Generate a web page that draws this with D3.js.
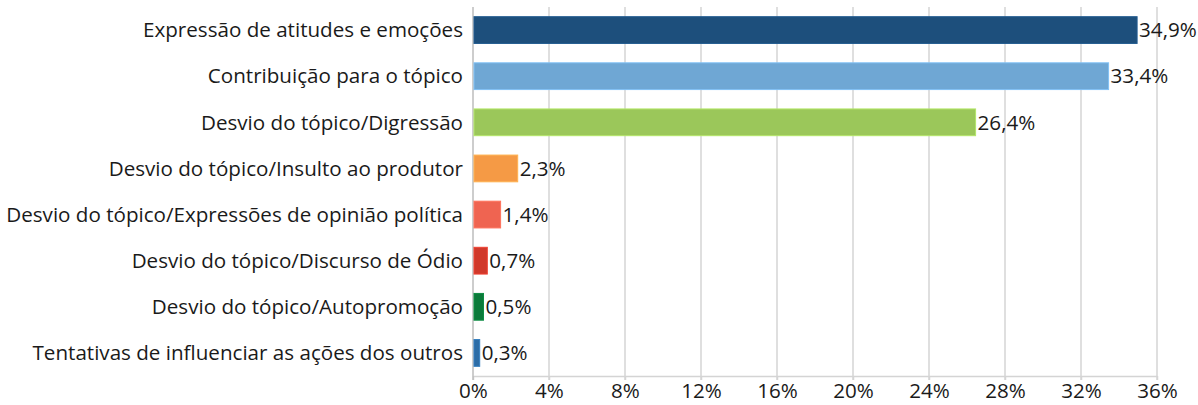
<!DOCTYPE html>
<html>
<head>
<meta charset="utf-8">
<style>
body { margin: 0; background: #fff; }
text { font-family: "Open Sans", sans-serif; fill: #1a1a1a; }
</style>
</head>
<body>
<div id="container"></div>
<script src="https://d3js.org/d3.v7.min.js"></script>
<script>
const categories = [
    "Expressão de atitudes e emoções",
    "Contribuição para o tópico",
    "Desvio do tópico/Digressão",
    "Desvio do tópico/Insulto ao produtor",
    "Desvio do tópico/Expressões de opinião política",
    "Desvio do tópico/Discurso de Ódio",
    "Desvio do tópico/Autopromoção",
    "Tentativas de influenciar as ações dos outros"
];
const values = [34.9, 33.4, 26.4, 2.3, 1.4, 0.7, 0.5, 0.3];
const colors = ["#1d4f7c", "#6fa7d4", "#9bc75a", "#f59a45", "#ef6451", "#d0392b", "#0b7a3a", "#2c6ca6"];
const ticks = [0, 4, 8, 12, 16, 20, 24, 28, 32, 36];

const width = 1198;
const height = 405;
const marginTop = 7;
const marginRight = 41;
const marginBottom = 29;
const marginLeft = 473;
const fontSize = 20.6;

const x = d3.scaleLinear()
    .domain([0, 36])
    .range([marginLeft, width - marginRight]);

const y = d3.scaleBand()
    .domain(categories)
    .range([marginTop, height - marginBottom])
    .paddingInner(0.42)
    .paddingOuter(0.21);

const svg = d3.create("svg")
    .attr("width", width)
    .attr("height", height);

// gridlines
svg.append("g")
    .selectAll("line")
    .data(ticks.slice(1))
    .join("line")
    .attr("x1", d => x(d))
    .attr("x2", d => x(d))
    .attr("y1", marginTop)
    .attr("y2", height - marginBottom + 4)
    .attr("stroke", "#d4d4d4")
    .attr("stroke-width", 1.5);

// bottom axis
const xAxis = svg.append("g")
    .attr("transform", `translate(0,${height - marginBottom})`)
    .call(d3.axisBottom(x).tickValues(ticks).tickFormat(d => d + "%").tickSize(4).tickSizeOuter(0));
xAxis.select(".domain").attr("stroke", "#d4d4d4").attr("stroke-width", 1.5);
xAxis.selectAll(".tick line").attr("stroke", "#d4d4d4").attr("stroke-width", 1.5);
xAxis.selectAll(".tick text")
    .attr("font-size", fontSize)
    .attr("font-family", null)
    .attr("fill", null)
    .attr("y", 7)
    .attr("dy", "0.71em");
xAxis.attr("font-family", null).attr("font-size", null);

// left axis line
svg.append("line")
    .attr("x1", x(0))
    .attr("x2", x(0))
    .attr("y1", marginTop)
    .attr("y2", height - marginBottom + 4)
    .attr("stroke", "#bdbdbd")
    .attr("stroke-width", 1.5);

// bars
svg.append("g")
    .selectAll("rect")
    .data(values)
    .join("rect")
    .attr("x", x(0) + 1)
    .attr("y", (d, i) => y(categories[i]))
    .attr("width", d => x(d) - x(0))
    .attr("height", y.bandwidth())
    .attr("fill", (d, i) => colors[i])
    .attr("stroke", (d, i) => d3.color(colors[i]).brighter(0.4))
    .attr("stroke-width", 1);

// category labels
svg.append("g")
    .selectAll("text")
    .data(categories)
    .join("text")
    .attr("x", x(0) - 10)
    .attr("y", d => y(d) + y.bandwidth() / 2)
    .attr("dy", "0.35em")
    .attr("text-anchor", "end")
    .attr("font-size", fontSize)
    .text(d => d);

// value labels
svg.append("g")
    .selectAll("text")
    .data(values)
    .join("text")
    .attr("x", d => x(d) + 3)
    .attr("y", (d, i) => y(categories[i]) + y.bandwidth() / 2)
    .attr("dy", "0.35em")
    .attr("font-size", fontSize)
    .text(d => d.toFixed(1).replace(".", ",") + "%");

document.getElementById("container").append(svg.node());
</script>
</body>
</html>
